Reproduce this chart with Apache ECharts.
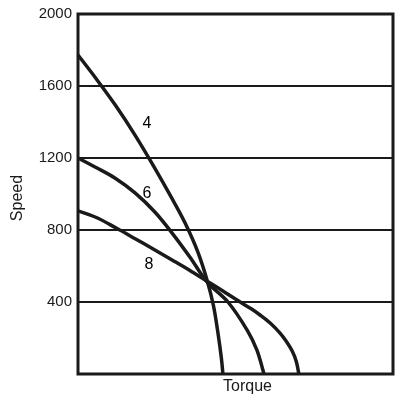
<!DOCTYPE html>
<html>
<head>
<meta charset="utf-8">
<script src="https://cdn.jsdelivr.net/npm/echarts@6/dist/echarts.min.js"></script>
<style>
html,body{margin:0;padding:0;background:#fff;}
#chart{width:399px;height:396px;}
</style>
</head>
<body>
<div id="chart"></div>
<script>
// Torque (arbitrary units 0-100), Speed values
var torque4 = [0, 6, 12, 18, 24, 30, 34, 38, 41, 43, 44.5, 45.5, 46.0];
var speed4  = [1772, 1635, 1490, 1330, 1155, 970, 839, 680, 520, 380, 220, 90, 0];

var torque6 = [0, 5.4, 11.7, 18.1, 24.4, 30.0, 35.5, 41.0, 47.6, 53.7, 56.8, 58.7, 59.0];
var speed6  = [1200, 1150, 1089, 1006, 900, 780, 650, 511, 400, 244, 133, 22, 0];

var torque8 = [0, 6, 12, 18, 24, 30, 36, 41, 46, 51, 55, 58, 61, 64, 66, 68, 69.3, 70.1];
var speed8  = [906, 868, 812, 753, 693, 632, 570, 516, 461, 405, 362, 325, 283, 230, 185, 128, 70, 0];

var curveNames = ['4', '6', '8'];
var labelTorque = [21.9, 21.9, 22.5];
var labelSpeed = [1390, 1005, 608];

var yTicks = [0, 400, 800, 1200, 1600, 2000];

function pairs(xs, ys) { return xs.map(function (x, i) { return [x, ys[i]]; }); }

var lineStyle = { color: '#1a1a1a', width: 3.5 };
var chart = echarts.init(document.getElementById('chart'), null, { renderer: 'canvas' });
chart.setOption({
  animation: false,
  backgroundColor: '#fff',
  grid: { left: 78, right: 6, top: 14, bottom: 22, outerBoundsMode: 'none', containLabel: false,
    show: true, borderColor: '#1a1a1a', borderWidth: 3, backgroundColor: 'transparent' },
  xAxis: {
    type: 'value', min: 0, max: 100,
    name: 'Torque', nameLocation: 'middle', nameGap: 5,
    nameTextStyle: { fontFamily: 'Liberation Sans', fontSize: 16, color: '#1a1a1a', padding: [0, 0, 0, 24] },
    axisLine: { show: false }, axisTick: { show: false }, axisLabel: { show: false }, splitLine: { show: false }
  },
  yAxis: {
    type: 'value', min: 0, max: 2000, interval: 400,
    name: 'Speed', nameLocation: 'middle', nameGap: 52, nameRotate: 90,
    nameTextStyle: { fontFamily: 'Liberation Sans', fontSize: 16, color: '#1a1a1a', padding: [0, 8, 0, 0] },
    axisLine: { show: false }, axisTick: { show: false },
    axisLabel: { fontFamily: 'Liberation Sans', fontSize: 15, color: '#1a1a1a', margin: 6, showMinLabel: false,
      formatter: function (v) { return yTicks.indexOf(v) > 0 ? String(v) : ''; } },
    splitLine: { show: true, lineStyle: { color: '#1a1a1a', width: 2 } }
  },
  series: [
    { type: 'line', data: pairs(torque4, speed4), smooth: 0.35, showSymbol: false, lineStyle: lineStyle },
    { type: 'line', data: pairs(torque6, speed6), smooth: 0.35, showSymbol: false, lineStyle: lineStyle },
    { type: 'line', data: pairs(torque8, speed8), smooth: 0.35, showSymbol: false, lineStyle: lineStyle },
    { type: 'scatter', symbolSize: 0, silent: true,
      data: curveNames.map(function (n, i) { return { value: [labelTorque[i], labelSpeed[i]], name: n }; }),
      label: { show: true, position: 'inside', formatter: '{b}', fontFamily: 'Liberation Sans', fontSize: 16, color: '#000', opacity: 1 } }
  ]
});
</script>
</body>
</html>
